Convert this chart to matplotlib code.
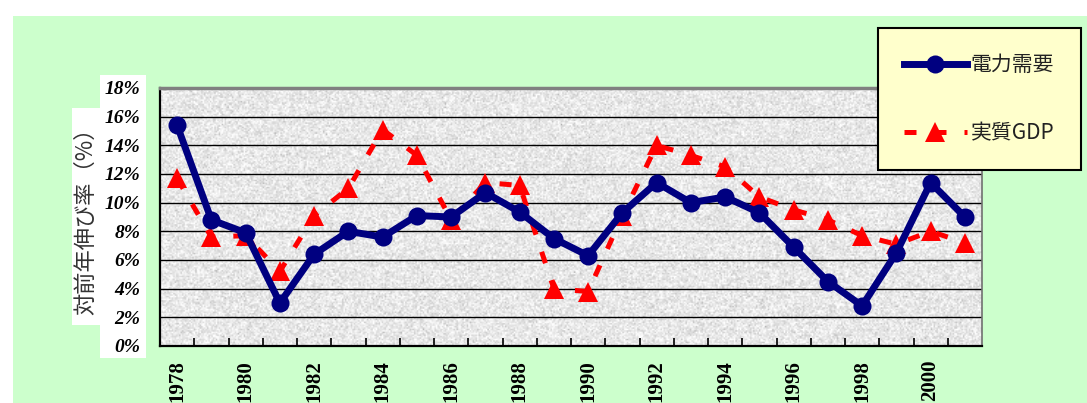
import numpy as np
import matplotlib
matplotlib.use("Agg")
import matplotlib.pyplot as plt
from matplotlib.patches import Rectangle
from matplotlib.ticker import FixedLocator, FuncFormatter

# Year-on-year growth rates (%)
years = list(range(1978, 2002))
power_demand = [15.4, 8.8, 7.9, 3.0, 6.4, 8.0, 7.6, 9.1, 9.0, 10.7, 9.35, 7.5,
                6.3, 9.3, 11.4, 10.0, 10.4, 9.3, 6.9, 4.5, 2.8, 6.5, 11.4, 9.0]
real_gdp = [11.7, 7.6, 7.7, 5.2, 9.1, 11.0, 15.1, 13.3, 8.8, 11.4, 11.2, 4.0,
            3.8, 9.1, 14.0, 13.3, 12.5, 10.4, 9.5, 8.8, 7.7, 7.1, 8.0, 7.2]
series_names = ["電力需要", "実質GDP"]
ylabel_text = "対前年伸び率（%）"
yticks = list(range(0, 20, 2))

W, H = 1087, 403
fig = plt.figure(figsize=(W / 100, H / 100), dpi=100)
fig.patch.set_facecolor("white")

# light green chart area with white margin at top/left
fig.patches.append(Rectangle((13 / W, 0), 1, 1 - 16 / H, transform=fig.transFigure,
                             facecolor="#ccffcc", edgecolor="none", zorder=-3))
# white panel behind the value axis labels
fig.patches.append(Rectangle((100 / W, 1 - 358 / H), 46 / W, 283 / H,
                             transform=fig.transFigure, facecolor="white",
                             edgecolor="none", zorder=-2))
fig.patches.append(Rectangle((72 / W, 1 - 325 / H), 29 / W, 217 / H,
                             transform=fig.transFigure, facecolor="white",
                             edgecolor="none", zorder=-2))

ax = fig.add_axes([160 / W, 1 - 346 / H, 822 / W, 258 / H])
x = np.arange(len(years))
ax.set_xlim(-0.5, len(years) - 0.5)
ax.set_ylim(0, 18)

# granite-like plot area texture
rng = np.random.default_rng(3)
tex = 0.91 + 0.06 * rng.standard_normal((180, 560))
tex = np.clip(tex, 0.62, 1.0)
ax.imshow(tex, cmap="gray", vmin=0, vmax=1, extent=(-0.5, len(years) - 0.5, 0, 18),
          aspect="auto", interpolation="bilinear", zorder=0)

for v in yticks[1:]:
    ax.axhline(v, color="black", lw=1.0, zorder=1)

ax.plot(x, real_gdp, color="#ff0000", lw=3.6, dashes=(2.4, 3.6),
        marker="^", markersize=15, markeredgewidth=0, label=series_names[1], zorder=3)
ax.plot(x, power_demand, color="#000080", lw=5, marker="o", markersize=13,
        markeredgewidth=0, label=series_names[0], zorder=4)

# spines
for s in ("left", "bottom"):
    ax.spines[s].set_color("black")
    ax.spines[s].set_linewidth(1.6)
ax.spines["top"].set_color("#808080")
ax.spines["top"].set_linewidth(2.5)
ax.spines["right"].set_color("#707070")
ax.spines["right"].set_linewidth(1.2)

ax.yaxis.set_major_locator(FixedLocator(yticks))
ax.yaxis.set_major_formatter(FuncFormatter(lambda v, p: f"{int(v)}%"))
ax.tick_params(axis="y", length=0, pad=14)
for lab in ax.get_yticklabels():
    lab.set_fontfamily("Liberation Serif")
    lab.set_fontweight("bold")
    lab.set_fontstyle("italic")
    lab.set_fontsize(14)

ax.set_xticks(x[::2])
ax.set_xticklabels([str(y) for y in years[::2]], rotation=90, fontsize=15,
                   fontfamily="Liberation Serif", fontweight="bold", va="top")
ax.set_xticks(x[:-1] + 0.5, minor=True)
ax.tick_params(axis="x", which="major", length=0, pad=10)
ax.tick_params(axis="x", which="minor", direction="in", length=6, width=1.2, color="black")

fig.text(86 / W, 1 - 216 / H, ylabel_text, rotation=90, ha="center", va="center",
         fontsize=16, color="#333333", family=["Noto Sans CJK JP", "DejaVu Sans"], zorder=2)

handles, labels = ax.get_legend_handles_labels()
leg = fig.legend([handles[1], handles[0]], [labels[1], labels[0]],
                 loc="upper left", bbox_to_anchor=(878 / W, 1 - 28 / H),
                 borderaxespad=0,
                 frameon=True, fancybox=False, facecolor="#ffffcc", edgecolor="black",
                 framealpha=1, numpoints=1, handlelength=3.0, handletextpad=0.2,
                 labelspacing=2.2, borderpad=1.25,
                 prop={"family": ["Noto Sans CJK JP", "DejaVu Sans"], "size": 15})
leg.get_frame().set_linewidth(1.5)
for t in leg.get_texts():
    t.set_color("#222222")

fig.savefig("out.png", dpi=100)
